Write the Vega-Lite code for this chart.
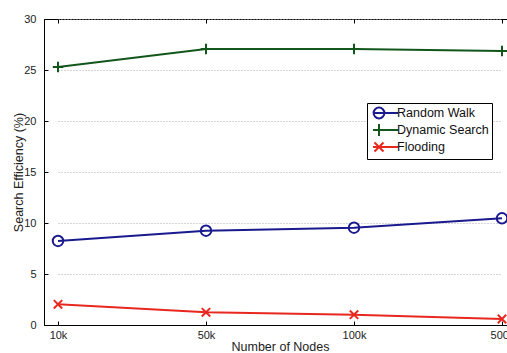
{
  "$schema": "https://vega.github.io/schema/vega-lite/v6.json",
  "width": 464,
  "height": 306,
  "autosize": {"type": "none"},
  "padding": {"left": 44, "top": 19, "right": 0, "bottom": 28},
  "background": "white",
  "config": {
    "view": {"stroke": "black", "strokeWidth": 1},
    "font": "Liberation Sans",
    "axis": {"labelFont": "Liberation Sans", "titleFont": "Liberation Sans", "labelFontSize": 11, "titleFontSize": 12.5, "titleFontWeight": "normal", "labelColor": "#222", "titleColor": "#222", "domainColor": "black", "tickColor": "black"}
  },
  "data": {"values": [
    {"nodes": "10k", "method": "Random Walk", "eff": 8.24},
    {"nodes": "50k", "method": "Random Walk", "eff": 9.25},
    {"nodes": "100k", "method": "Random Walk", "eff": 9.54},
    {"nodes": "500k", "method": "Random Walk", "eff": 10.46},
    {"nodes": "10k", "method": "Dynamic Search", "eff": 25.3},
    {"nodes": "50k", "method": "Dynamic Search", "eff": 27.05},
    {"nodes": "100k", "method": "Dynamic Search", "eff": 27.05},
    {"nodes": "500k", "method": "Dynamic Search", "eff": 26.86},
    {"nodes": "10k", "method": "Flooding", "eff": 2.03},
    {"nodes": "50k", "method": "Flooding", "eff": 1.24},
    {"nodes": "100k", "method": "Flooding", "eff": 1.01},
    {"nodes": "500k", "method": "Flooding", "eff": 0.59}
  ]},
  "resolve": {"axis": {"x": "independent"}},
  "layer": [
    {
      "mark": {"type": "line", "strokeWidth": 2},
      "encoding": {
        "x": {"field": "nodes", "type": "ordinal", "sort": ["10k", "50k", "100k", "500k"],
              "scale": {"type": "point", "range": [14, 458], "padding": 0},
              "axis": {"title": "Number of Nodes", "labelAngle": 0, "tickSize": -4, "labelPadding": 8, "titlePadding": 0, "grid": false}},
        "y": {"field": "eff", "type": "quantitative", "scale": {"domain": [0, 30], "nice": false},
              "axis": {"title": "Search Efficiency (%)", "values": [0, 5, 10, 15, 20, 25, 30], "tickSize": -4, "labelPadding": 12, "titlePadding": -2, "grid": true, "gridDash": [1, 2], "gridColor": "#aaa"}},
        "color": {"field": "method", "type": "nominal",
                  "scale": {"domain": ["Random Walk", "Dynamic Search", "Flooding"], "range": ["#1a1a8f", "#12561c", "#e8281f"]},
                  "legend": {"title": null, "orient": "none", "legendX": 323, "legendY": 84, "strokeColor": "black", "fillColor": "white", "padding": 3, "labelFontSize": 12.5, "labelColor": "#111", "symbolSize": 144, "symbolStrokeWidth": 2, "rowPadding": -4, "labelOffset": 13,
                             "encode": {"symbols": {"update": {"shape": {"signal": "datum.value === 'Random Walk' ? 'M-1,0H3.2M-0.9,0A0.9,0.9 0 1,0 0.9,0A0.9,0.9 0 1,0 -0.9,0' : datum.value === 'Dynamic Search' ? 'M-1,0H3.2M0,-1V1' : 'M-1,0H3.2M-0.75,-0.75L0.75,0.75M-0.75,0.75L0.75,-0.75'"}, "fill": {"value": "transparent"}, "xc": {"value": 9}}}}}}
      }
    },
    {
      "mark": {"type": "point", "filled": false, "strokeWidth": 2, "size": 110, "opacity": 1},
      "encoding": {
        "x": {"field": "nodes", "type": "ordinal", "sort": ["10k", "50k", "100k", "500k"], "axis": null},
        "y": {"field": "eff", "type": "quantitative"},
        "color": {"field": "method", "type": "nominal"},
        "shape": {"condition": [
                    {"test": "datum.method === 'Random Walk'", "value": "circle"},
                    {"test": "datum.method === 'Dynamic Search'", "value": "M0,-1V1M-1,0H1"}],
                  "value": "M-0.8,-0.8L0.8,0.8M-0.8,0.8L0.8,-0.8"}
      }
    },
    {
      "mark": {"type": "point", "opacity": 0},
      "encoding": {
        "x": {"field": "nodes", "type": "ordinal", "sort": ["10k", "50k", "100k", "500k"],
              "axis": {"orient": "top", "title": null, "labels": false, "domain": false, "tickSize": -4, "grid": false}},
        "y": {"field": "eff", "type": "quantitative"}
      }
    }
  ]
}
